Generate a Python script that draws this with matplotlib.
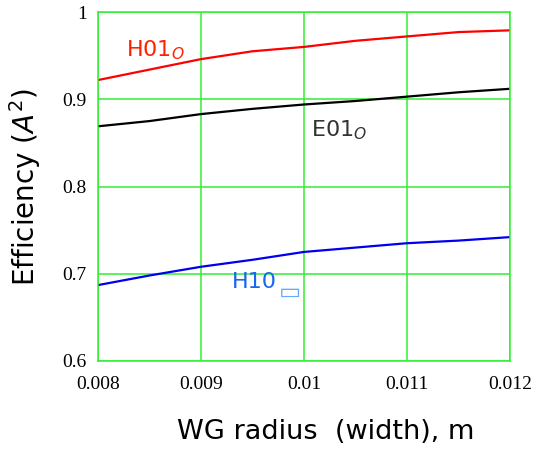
import matplotlib
matplotlib.use('Agg')
import matplotlib.pyplot as plt

# WG radius (m) and efficiency of each mode
radius = [0.008, 0.0085, 0.009, 0.0095, 0.010, 0.0105, 0.011, 0.0115, 0.012]
h01 = [0.922, 0.934, 0.946, 0.955, 0.960, 0.967, 0.972, 0.977, 0.979]
e01 = [0.869, 0.875, 0.883, 0.889, 0.894, 0.898, 0.903, 0.908, 0.912]
h10 = [0.687, 0.698, 0.708, 0.716, 0.725, 0.730, 0.735, 0.738, 0.742]

xticks = [0.008, 0.009, 0.010, 0.011, 0.012]
xticklabels = ['0.008', '0.009', '0.01', '0.011', '0.012']
yticks = [0.6, 0.7, 0.8, 0.9, 1.0]
yticklabels = ['0.6', '0.7', '0.8', '0.9', '1']

grid_green = '#33ee33'

fig = plt.figure(figsize=(5.39, 4.55), dpi=100)
ax = fig.add_axes([0.1818, 0.2066, 0.7644, 0.767])

ax.plot(radius, h01, color='#ff0000', lw=1.6)
ax.plot(radius, e01, color='#000000', lw=1.6)
ax.plot(radius, h10, color='#0000ee', lw=1.6)

ax.set_xlim(0.008, 0.012)
ax.set_ylim(0.6, 1.0)
ax.set_xticks(xticks)
ax.set_xticklabels(xticklabels)
ax.set_yticks(yticks)
ax.set_yticklabels(yticklabels)
ax.tick_params(length=0, labelsize=14)
ax.tick_params(axis='x', pad=11)
ax.tick_params(axis='y', pad=8)
for lab in ax.get_xticklabels() + ax.get_yticklabels():
    lab.set_family('Liberation Serif')

ax.grid(True, color=grid_green, lw=1.1)
for s in ax.spines.values():
    s.set_color(grid_green)
    s.set_linewidth(1.1)

# mode labels
ax.text(0.00827, 0.956, r'H01$_{\mathit{O}}$', color='#ff2200', fontsize=16, va='center')
ax.text(0.01007, 0.864, r'E01$_{\mathit{O}}$', color='#333333', fontsize=16, va='center')
ax.text(0.0093, 0.690, 'H10', color='#1a66ee', fontsize=16, va='center')
ax.text(0.00976, 0.679, '\u25AD', color='#66aaff', fontsize=17, va='center')

fig.text(0.046, 0.59, r'Efficiency ($\mathit{A}^2$)', rotation=90, fontsize=20,
         ha='center', va='center')
fig.text(0.605, 0.05, 'WG radius  (width), m', fontsize=19.5,
         ha='center', va='center')

fig.savefig('out.png', dpi=100)
